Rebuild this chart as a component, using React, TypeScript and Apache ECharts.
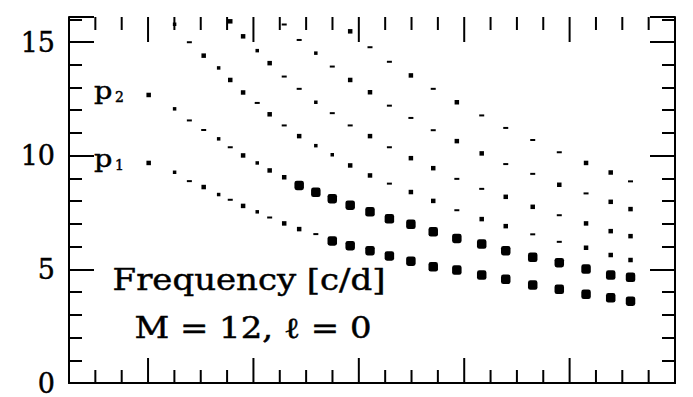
import React, { useEffect, useRef } from "react";
import * as echarts from "echarts";

// Model sequence (abscissa, arbitrary units; the axis carries no labels)
const models = [
  5.03, 6.26, 6.96, 7.64, 8.35, 8.9, 9.51, 10.18, 10.77, 11.46, 12.17, 12.96, 13.74,
  14.59, 15.53, 16.45, 17.47, 18.53, 19.65, 20.83, 21.97, 23.25, 24.51, 25.78, 26.95, 27.89,
];

// Radial p-mode frequencies [c/d] for each model (null: above the plotted range)
const p1Freq = [
  9.68, 9.27, 8.88, 8.62, 8.29, 8.06, 7.79, 7.53, 7.28, 7.02, 6.77, 6.55, 6.25,
  6.04, 5.82, 5.59, 5.36, 5.11, 4.97, 4.75, 4.56, 4.31, 4.12, 3.9, 3.75, 3.6,
];
const p2Freq = [
  12.67, 12.06, 11.55, 11.13, 10.74, 10.37, 10.01, 9.68, 9.35, 9.05, 8.69, 8.39, 8.11,
  7.82, 7.53, 7.22, 6.98, 6.65, 6.36, 6.11, 5.82, 5.53, 5.29, 5.01, 4.75, 4.65,
];
const p3Freq = [
  null, 15.78, 14.99, 14.4, 13.86, 13.33, 12.78, 12.32, 11.82, 11.33, 10.86, 10.44, 10.04,
  9.57, 9.13, 8.77, 8.4, 8.01, 7.6, 7.21, 6.9, 6.54, 6.21, 5.95, 5.63, 5.41,
];
const p4Freq = [
  null, null, null, null, null, 15.91, 15.25, 14.62, 14.07, 13.48, 12.94, 12.35, 11.87,
  11.33, 10.86, 10.37, 9.89, 9.45, 8.98, 8.54, 8.19, 7.75, 7.38, 7.02, 6.68, 6.46,
];
const p5Freq = [
  null, null, null, null, null, null, null, null, null, 15.77, 15.09, 14.51, 13.92,
  13.33, 12.79, 12.2, 11.66, 11.12, 10.64, 10.1, 9.63, 9.2, 8.72, 8.34, 7.97, 7.65,
];
const p6Freq = [
  null, null, null, null, null, null, null, null, null, null, null, null, null,
  15.47, 14.77, 14.13, 13.53, 12.94, 12.35, 11.77, 11.22, 10.69, 10.15, 9.68, 9.26, 8.87,
];

// Growth class of each mode (0 = damped ... 3 = strongly excited)
const p1Growth = [2, 1, 0, 2, 1, 0, 2, 1, 0, 2, 2, 0, 3, 3, 3, 3, 3, 3, 3, 3, 3, 3, 3, 3, 3, 3];
const p2Growth = [2, 1, 0, 0, 1, 0, 2, 1, 2, 2, 3, 3, 3, 3, 3, 3, 3, 3, 3, 3, 3, 3, 3, 3, 3, 3];
const p3Growth = [null, 1, 0, 2, 1, 2, 2, 0, 2, 0, 2, 1, 1, 2, 2, 0, 2, 2, 0, 2, 2, 0, 0, 2, 2, 2];
const p4Growth = [
  null, null, null, null, null, 2, 2, 1, 2, 0, 0, 1, 0, 0, 2, 0, 2, 2, 0, 0, 2, 2, 0, 2, 2, 2,
];
const p5Growth = [
  null, null, null, null, null, null, null, null, null, 0, 0, 1, 0, 2, 2, 0, 0, 0, 2, 2, 0, 0, 2, 0, 2, 2,
];
const p6Growth = [
  null, null, null, null, null, null, null, null, null, null, null, null, null,
  2, 0, 0, 2, 0, 2, 0, 0, 0, 0, 2, 2, 0,
];

const modes = [
  { name: "p1", freq: p1Freq, growth: p1Growth },
  { name: "p2", freq: p2Freq, growth: p2Growth },
  { name: "p3", freq: p3Freq, growth: p3Growth },
  { name: "p4", freq: p4Freq, growth: p4Growth },
  { name: "p5", freq: p5Freq, growth: p5Growth },
  { name: "p6", freq: p6Freq, growth: p6Growth },
];

// Axis ranges and tick positions
const xRange = [1.25, 30];
const yRange = [0, 16.1];
const xMajorTicks = [5, 10, 15, 20, 25];
const xMinorTicks = [
  2.5, 3.75, 6.25, 7.5, 8.75, 11.25, 12.5, 13.75, 16.25, 17.5, 18.75, 21.25, 22.5, 23.75,
  26.25, 27.5, 28.75,
];
const yTicks = [0, 5, 10, 15];

const FONT = '"DejaVu Serif", "Liberation Serif", serif';
const MAJOR_LEN = 25;
const MINOR_LEN = 13;

function marker(g: number) {
  if (g === 3) return { symbol: "roundRect", symbolSize: 9.5 };
  if (g === 2) return { symbol: "rect", symbolSize: 4.5 };
  if (g === 1) return { symbol: "rect", symbolSize: 3.5 };
  return { symbol: "rect", symbolSize: [5, 2] };
}

const axisLine = { show: true, lineStyle: { color: "#000", width: 2 } };

export default function App() {
  const ref = useRef<HTMLDivElement>(null);

  useEffect(() => {
    if (!ref.current) return;
    const chart = echarts.init(ref.current, null, { renderer: "svg" });

    const xBase = {
      type: "value",
      min: xRange[0],
      max: xRange[1],
      axisLine,
      axisTick: { show: false },
      axisLabel: { show: false },
      splitLine: { show: false },
    };
    const yBase = {
      type: "value",
      min: yRange[0],
      max: yRange[1],
      interval: 5,
      axisLine,
      axisTick: { show: true, inside: true, length: MAJOR_LEN, lineStyle: { color: "#000", width: 2 } },
      minorTick: { show: true, splitNumber: 5, length: MINOR_LEN, lineStyle: { color: "#000", width: 2 } },
      splitLine: { show: false },
    };

    const scatter = modes.map((m) => ({
      name: m.name,
      type: "scatter",
      silent: true,
      itemStyle: { color: "#000", opacity: 1 },
      data: models
        .map((x, i) =>
          m.freq[i] == null ? null : { value: [x, m.freq[i]], ...marker(m.growth[i] as number) }
        )
        .filter(Boolean),
    }));

    // inward ticks on the bottom and top frame edges
    const tickSeries = {
      type: "custom",
      silent: true,
      clip: false,
      data: [
        ...xMajorTicks.map((v) => [v, MAJOR_LEN]),
        ...xMinorTicks.map((v) => [v, MINOR_LEN]),
      ],
      renderItem: (_params: any, api: any) => {
        const x = api.value(0);
        const len = api.value(1);
        const bottom = api.coord([x, yRange[0]]);
        const top = api.coord([x, yRange[1]]);
        const style = { stroke: "#000", lineWidth: 2 };
        return {
          type: "group",
          children: [
            { type: "line", shape: { x1: bottom[0], y1: bottom[1], x2: bottom[0], y2: bottom[1] - len }, style },
            { type: "line", shape: { x1: top[0], y1: top[1], x2: top[0], y2: top[1] + len }, style },
          ],
        };
      },
    };

    // serif lettering, slightly thickened by a thin stroke of the same colour
    const textStyle = (text: string, size: number, align: string) => ({
      text,
      x: 0,
      y: 0,
      fill: "#000",
      stroke: "#000",
      lineWidth: 0.45,
      fontSize: size,
      fontFamily: FONT,
      align,
      verticalAlign: "middle",
    });

    chart.setOption({
      animation: false,
      backgroundColor: "#fff",
      grid: { left: 69, right: 18, top: 17, bottom: 14 },
      xAxis: [
        { ...xBase, position: "bottom" },
        { ...xBase, position: "top" },
      ],
      yAxis: [
        {
          ...yBase,
          position: "left",
          axisLabel: {
            show: true,
            margin: 14,
            color: "#000",
            fontSize: 27,
            fontFamily: FONT,
            textBorderColor: "#000",
            textBorderWidth: 0.45,
            formatter: (v: number) => (yTicks.includes(v) ? String(v) : ""),
          },
        },
        { ...yBase, position: "right", axisLabel: { show: false } },
      ],
      series: [tickSeries, ...scatter],
      graphic: [
        { type: "text", x: 94, y: 90, scaleX: 1.2, style: textStyle("p", 24, "left") },
        { type: "text", x: 115, y: 97, style: textStyle("2", 14, "left") },
        { type: "text", x: 94, y: 158, scaleX: 1.2, style: textStyle("p", 24, "left") },
        { type: "text", x: 115, y: 165, style: textStyle("1", 14, "left") },
        { type: "text", x: 249, y: 280, scaleX: 1.17, style: textStyle("Frequency [c/d]", 29, "center") },
        { type: "text", x: 253, y: 328, scaleX: 1.17, style: textStyle("M = 12, \u2113 = 0", 29, "center") },
      ],
    });

    return () => chart.dispose();
  }, []);

  return (
    <div
      ref={ref}
      style={{ position: "fixed", left: 0, top: 0, width: 693, height: 397, background: "#fff" }}
    />
  );
}
